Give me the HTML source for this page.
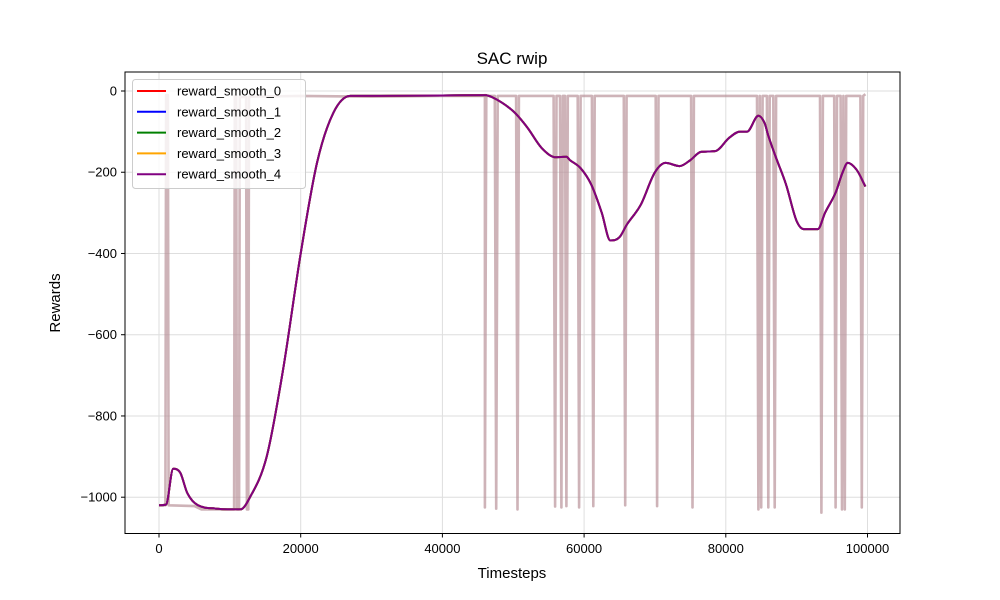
<!DOCTYPE html>
<html><head><meta charset="utf-8"><style>
body{margin:0;background:#fff;}
svg{display:block;font-family:"Liberation Sans","DejaVu Sans",sans-serif;}
</style></head><body>
<svg id="chart" width="1000" height="600" xmlns="http://www.w3.org/2000/svg">
<rect width="1000" height="600" fill="#fff"/>
<g id="grid"></g>
<g id="plot"></g>
<rect x="125" y="72" width="775" height="461.5" fill="none" stroke="#000" stroke-width="1"/>
<g id="ticks"></g>
<text x="512" y="64" font-size="17" text-anchor="middle">SAC rwip</text>
<text x="512" y="578" font-size="15" text-anchor="middle">Timesteps</text>
<text x="60" y="303" font-size="15" text-anchor="middle" transform="rotate(-90 60 303)">Rewards</text>
<g id="legend"></g>
</svg>
<script>
const xTicks=[0,20000,40000,60000,80000,100000];
const yTicks=[0,-200,-400,-600,-800,-1000];
const seriesNames=["reward_smooth_0","reward_smooth_1","reward_smooth_2","reward_smooth_3","reward_smooth_4"];
const seriesColors=["red","blue","green","orange","purple"];
// raw reward: base path and drop (spike) timesteps
const rawBaseT=[0,900,1000,1250,1350,5000,6000,10600,10700,10900,11000,11300,11400,12300,12400,12600,12700,20000,30000,40000,46000,99700];
const rawBaseV=[-1020,-1020,-10,-10,-1020,-1022,-1030,-1030,-12,-12,-1030,-1030,-15,-15,-1030,-1030,-14,-12,-14,-12,-10,-8];
const dropT=[46000,47600,50600,55900,56800,57500,59300,61300,65800,70300,75300,84600,85000,86000,86900,93500,95500,96400,96800,99200];
const dropV=[-1025,-1028,-1030,-1023,-1025,-1022,-1025,-1022,-1020,-1022,-1025,-1030,-1025,-1025,-1025,-1038,-1025,-1030,-1030,-1025];
// smoothed reward (all five smooth series coincide)
const smoothT=[0,1000,2000,3000,4000,5500,8000,10000,11500,12850,15200,17500,20000,22300,24600,27000,30000,40000,46000,47000,50000,52000,54000,56000,57500,58000,59500,61000,62500,63700,65000,66000,68000,70000,71500,73500,75000,76500,78500,80500,82000,83000,84600,85500,86000,87000,88500,90000,91000,93000,94000,95500,96500,97200,98500,99700];
const smoothV=[-1020,-1018,-930,-940,-990,-1020,-1028,-1030,-1030,-1000,-900,-687,-400,-177,-54,-12,-12,-11,-10,-15,-50,-90,-140,-163,-162,-170,-190,-230,-300,-368,-360,-330,-280,-200,-177,-185,-170,-150,-148,-115,-100,-100,-61,-80,-110,-160,-230,-320,-340,-340,-300,-250,-200,-177,-195,-235];

const NS="http://www.w3.org/2000/svg";
const X=t=>159+t*0.007085;
const Y=v=>91-v*0.4062;
function mk(tag,attrs,parent){const e=document.createElementNS(NS,tag);for(const k in attrs)e.setAttribute(k,attrs[k]);parent.appendChild(e);return e;}
const grid=document.getElementById('grid'),ticks=document.getElementById('ticks'),plot=document.getElementById('plot'),legend=document.getElementById('legend');
xTicks.forEach(t=>{
 const g=mk('line',{x1:X(t),x2:X(t),y1:72,y2:533.5,stroke:'#dedede','stroke-width':1},grid);
 
 
 const tk=mk('line',{x1:X(t),x2:X(t),y1:533.5,y2:537.5,stroke:'#000'},ticks);
 
 
 const tx=mk('text',{x:X(t),y:553,'font-size':13,'text-anchor':'middle'},ticks);tx.textContent=String(t);
 
 
});
yTicks.forEach(v=>{
 const g=mk('line',{x1:125,x2:900,y1:Y(v),y2:Y(v),stroke:'#dedede','stroke-width':1},grid);
 
 
 const tk=mk('line',{x1:121,x2:125,y1:Y(v),y2:Y(v),stroke:'#000'},ticks);
 
 
 const tx=mk('text',{x:117,y:Y(v)+4.5,'font-size':13,'text-anchor':'end'},ticks);tx.textContent=String(v).replace('-','\u2212');
 
 
});
let pts=rawBaseT.map((t,i)=>[t,rawBaseV[i]]);
dropT.forEach((t,i)=>{pts.push([t-200,-12],[t,dropV[i]],[t+200,-12]);});
pts.sort((a,b)=>a[0]-b[0]);
const rawD=pts.map((p,i)=>(i?'L':'M')+X(p[0]).toFixed(1)+','+Y(p[1]).toFixed(1)).join('');
const raw=mk('path',{d:rawD,fill:'none',stroke:'#b48a92','stroke-opacity':0.65,'stroke-width':2.6,'stroke-linejoin':'round'},plot);


// monotone cubic path
function monoPath(xs,ys){
 const n=xs.length,d=[],m=new Array(n);
 for(let i=0;i<n-1;i++)d.push((ys[i+1]-ys[i])/(xs[i+1]-xs[i]));
 m[0]=d[0];m[n-1]=d[n-2];
 for(let i=1;i<n-1;i++){m[i]=(d[i-1]*d[i]<=0)?0:(d[i-1]+d[i])/2;}
 for(let i=0;i<n-1;i++){if(d[i]===0){m[i]=0;m[i+1]=0;continue;}const a=m[i]/d[i],b=m[i+1]/d[i],s=a*a+b*b;if(s>9){const t=3/Math.sqrt(s);m[i]=t*a*d[i];m[i+1]=t*b*d[i];}}
 let s='M'+xs[0].toFixed(1)+','+ys[0].toFixed(1);
 for(let i=0;i<n-1;i++){const h=(xs[i+1]-xs[i])/3;s+='C'+(xs[i]+h).toFixed(1)+','+(ys[i]+m[i]*h).toFixed(1)+' '+(xs[i+1]-h).toFixed(1)+','+(ys[i+1]-m[i+1]*h).toFixed(1)+' '+xs[i+1].toFixed(1)+','+ys[i+1].toFixed(1);}
 return s;
}
const sD=monoPath(smoothT.map(X),smoothV.map(Y));
seriesNames.forEach((n,i)=>{
 const p=mk('path',{d:sD,fill:'none',stroke:seriesColors[i],'stroke-width':2,'stroke-linejoin':'round'},plot);
 
 
});
const lb=mk('rect',{x:132.5,y:79.5,width:173,height:109,rx:3,fill:'#fff','fill-opacity':0.8,stroke:'#ccc'},legend);


seriesNames.forEach((n,i)=>{
 const y=91+i*20.8;
 const g=mk('g',{},legend);
 
 
 mk('line',{x1:137,x2:166,y1:y,y2:y,stroke:seriesColors[i],'stroke-width':2},g);
 const t=mk('text',{x:177,y:y+4.5,'font-size':13},g);t.textContent=n;
});
</script>
</body></html>
